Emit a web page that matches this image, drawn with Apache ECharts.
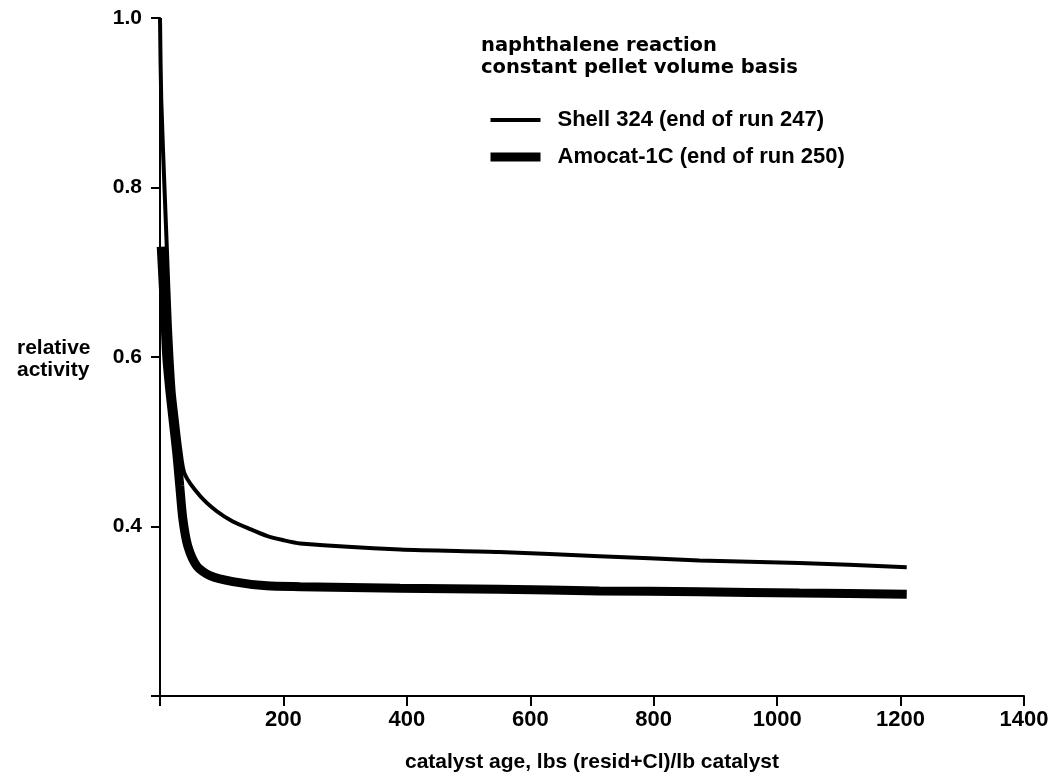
<!DOCTYPE html>
<html>
<head>
<meta charset="utf-8">
<script src="https://cdn.jsdelivr.net/npm/echarts@6/dist/echarts.min.js"></script>
<style>html,body{margin:0;padding:0;background:#fff;}#c{width:1053px;height:779px;}</style>
</head>
<body>
<div id="c"></div>
<script>
var xTicks = [0, 200, 400, 600, 800, 1000, 1200, 1400];
var yTicks = [0.2, 0.4, 0.6, 0.8, 1.0];
var seriesNames = ['Shell 324 (end of run 247)', 'Amocat-1C (end of run 250)'];
var shellAge = [0, 2, 8, 11, 16, 22, 27, 33, 40, 65, 92, 118, 146, 173, 199, 227, 389, 550, 712, 874, 1036, 1210];
var shellActivity = [1.0, 0.904, 0.786, 0.73, 0.637, 0.56, 0.527, 0.49, 0.462, 0.436, 0.418, 0.406, 0.397, 0.389, 0.384, 0.380, 0.373, 0.370, 0.365, 0.360, 0.357, 0.352];
var amocatAge = [2, 7, 11, 16, 21, 27, 32, 37, 45, 60, 81, 118, 173, 227, 389, 550, 712, 874, 1036, 1210];
var amocatActivity = [0.73, 0.66, 0.60, 0.56, 0.527, 0.488, 0.448, 0.409, 0.377, 0.353, 0.342, 0.335, 0.330, 0.329, 0.327, 0.326, 0.324, 0.323, 0.3215, 0.320];
var lineWidths = [4, 9];

function pairs(xs, ys) { return xs.map(function (x, i) { return [x, ys[i]]; }); }

var chart = echarts.init(document.getElementById('c'), null, {renderer: 'canvas'});
var FONT = '"Liberation Sans", Arial, sans-serif';
chart.setOption({
  animation: false,
  backgroundColor: '#fff',
  title: {
    text: 'naphthalene reaction\nconstant pellet volume basis',
    left: 481, top: 35, padding: 0,
    textStyle: {fontFamily: '"DejaVu Sans", sans-serif', fontWeight: 'bold', fontSize: 19.5, lineHeight: 22, color: '#000'}
  },
  legend: {
    orient: 'vertical', left: 486, top: 109, padding: 0,
    itemWidth: 50, itemHeight: 22, itemGap: 15,
    itemStyle: {opacity: 0},
    data: seriesNames.map(function (n, i) {
      return {name: n, lineStyle: {width: lineWidths[i], color: '#000'}, itemStyle: {opacity: 0}};
    }),
    textStyle: {fontFamily: FONT, fontWeight: 'bold', fontSize: 22, color: '#000', padding: [0, 0, 0, 12]}
  },
  graphic: [{
    type: 'text', left: 17, top: 337,
    style: {text: 'relative\nactivity', fontFamily: FONT, fontWeight: 'bold', fontSize: 21, lineHeight: 22, fill: '#000'}
  }],
  grid: {left: 160, right: 29, top: 18, bottom: 83, containLabel: false},
  xAxis: {
    type: 'value', min: xTicks[0], max: xTicks[xTicks.length - 1], interval: 200,
    name: 'catalyst age, lbs (resid+Cl)/lb catalyst', nameLocation: 'middle', nameGap: 56,
    nameTextStyle: {fontFamily: FONT, fontWeight: 'bold', fontSize: 21, color: '#000'},
    axisLine: {show: true, lineStyle: {color: '#000', width: 2}},
    axisTick: {show: true, inside: false, length: 10, lineStyle: {color: '#000', width: 2}},
    axisLabel: {margin: 13, fontFamily: FONT, fontWeight: 'bold', fontSize: 22, color: '#000',
      formatter: function (v) { return v === 0 ? '' : String(v); }},
    splitLine: {show: false}
  },
  yAxis: {
    type: 'value', min: yTicks[0], max: yTicks[yTicks.length - 1], interval: 0.2,
    axisLine: {show: true, lineStyle: {color: '#000', width: 2}},
    axisTick: {show: true, inside: false, length: 9, lineStyle: {color: '#000', width: 2}},
    axisLabel: {margin: 18, fontFamily: FONT, fontWeight: 'bold', fontSize: 21, color: '#000',
      formatter: function (v) { return Math.abs(v - 0.2) < 1e-9 ? '' : v.toFixed(1); }},
    splitLine: {show: false}
  },
  series: [
    {name: seriesNames[0], type: 'line', data: pairs(shellAge, shellActivity), symbol: 'none',
      smooth: 0.25, lineStyle: {color: '#000', width: lineWidths[0]}, itemStyle: {color: '#000'}},
    {name: seriesNames[1], type: 'line', data: pairs(amocatAge, amocatActivity), symbol: 'none',
      smooth: 0.25, lineStyle: {color: '#000', width: lineWidths[1]}, itemStyle: {color: '#000'}}
  ]
});
</script>
</body>
</html>
